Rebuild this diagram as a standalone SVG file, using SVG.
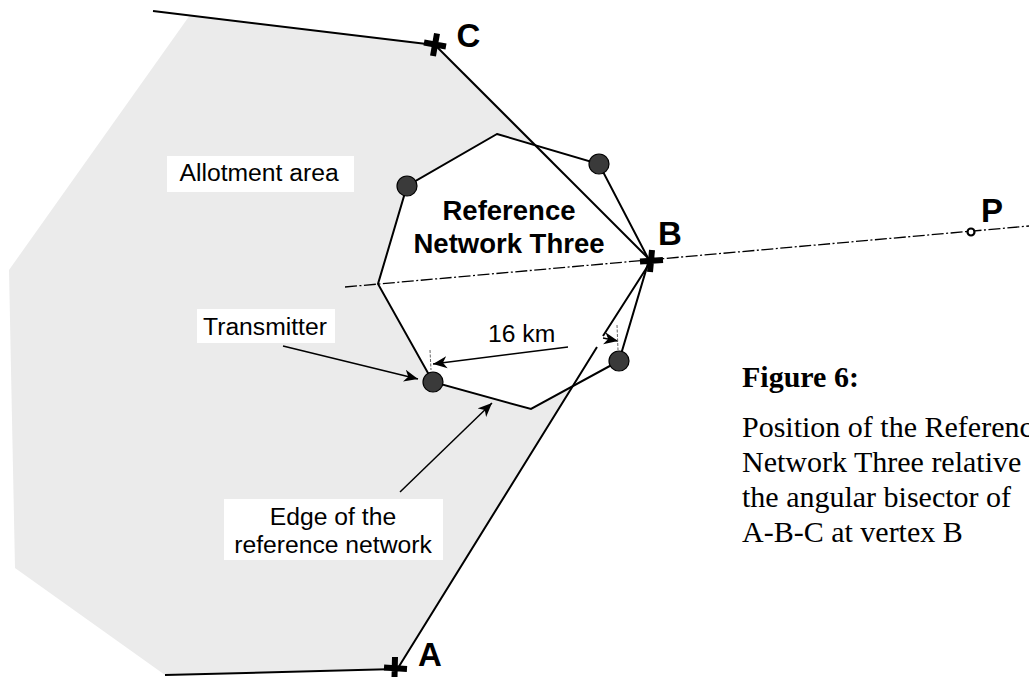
<svg xmlns="http://www.w3.org/2000/svg" width="1029" height="677" viewBox="0 0 1029 677">
<style>
.l{fill:none;stroke:#000;stroke-width:2}
.t{stroke:#000;stroke-width:1.5;fill:none}
.x{stroke:#000;stroke-width:6;fill:none}
.c{fill:#3a3a3a;stroke:#000;stroke-width:1.2}
.s{font-family:"Liberation Sans",Arial,sans-serif;font-size:24.700px;fill:#000}
.b{font-family:"Liberation Sans",Arial,sans-serif;font-weight:bold;fill:#000}
.f{font-family:"Liberation Serif","Times New Roman",serif;font-size:30px;fill:#000}
.w{fill:#fff}
</style>
<defs>
<marker id="a" markerUnits="userSpaceOnUse" markerWidth="15" markerHeight="13" refX="14" refY="6.500" orient="auto"><path d="M0,0.500L14,6.500L0,12.500L4,6.500Z" fill="#000"/></marker>
</defs>
<path id="area" d="M190,15L435,45L651,261L397,668L165,675L15,568L9,270Z" fill="#ebebeb"/>
<g id="connectors">
<path class="l" d="M153,11L435,45"/>
<path class="l" d="M165,675L396,669"/>
<path id="net" d="M497,134L599,164L649,260L619,361L531,409L433,382L378,284L407,186Z" fill="#fff" stroke="#000" stroke-width="2"/>
<path class="l" d="M435,45L651,261"/>
<path class="l" d="M398,668L597,347M603,336L651,261"/>
<path d="M345,287L1029,226" fill="none" stroke="#000" stroke-width="1.300" stroke-dasharray="12 2.500 2 2.500"/>
<path class="t" d="M283,346L418,379" marker-end="url(#a)"/>
<path class="t" d="M400,492L492,403" marker-end="url(#a)"/>
<path class="t" d="M568,347L433,364" marker-end="url(#a)"/>
<path class="t" d="M603,338L618,341" marker-end="url(#a)"/>
<path d="M430,350L431,370M617,325L618,350" fill="none" stroke="#666" stroke-width="1" stroke-dasharray="3 1.500"/>
</g>
<g id="tx1"><circle class="c" cx="407" cy="186" r="10"/></g>
<g id="tx2"><circle class="c" cx="599" cy="164" r="10"/></g>
<g id="tx3"><circle class="c" cx="619" cy="361" r="10"/></g>
<g id="tx4"><circle class="c" cx="433" cy="382" r="10"/></g>
<g id="C"><path class="x" d="M424,42.500L446,46.500M437,33.500L433,56"/><text class="b" x="456.500" y="46.500" font-size="33">C</text></g>
<g id="B"><path class="x" d="M640,261.500L663,260M652,250L650,272"/><text class="b" x="658" y="245" font-size="33">B</text></g>
<g id="A"><path class="x" d="M384,667.500L407,669M395,657L394.500,677"/><text class="b" x="418" y="666" font-size="33">A</text></g>
<g id="P"><circle cx="971" cy="232" r="3.500" fill="#fff" stroke="#000" stroke-width="2.200"/><text class="b" x="981" y="222" font-size="33">P</text></g>
<g id="allotment"><rect class="w" x="167" y="156" width="187" height="36"/><text class="s" x="179.500" y="181">Allotment area</text></g>
<g id="network"><text class="b" x="509" y="220" font-size="27.500" text-anchor="middle">Reference</text><text class="b" x="509" y="252.500" font-size="27.500" text-anchor="middle">Network Three</text></g>
<g id="transmitter"><rect class="w" x="197" y="309" width="138" height="34"/><text class="s" x="203" y="335">Transmitter</text></g>
<g id="km"><text class="s" x="488" y="342">16 km</text></g>
<g id="edge"><rect class="w" x="224" y="499" width="219" height="61"/><text class="s" x="333" y="525" text-anchor="middle">Edge of the</text><text class="s" x="333" y="553" text-anchor="middle">reference network</text></g>
<g id="caption"><text class="f" x="742" y="387" font-weight="bold">Figure 6:</text><text class="f" x="742" y="437">Position of the Referenc</text><text class="f" x="742" y="472">Network Three relative</text><text class="f" x="742" y="507">the angular bisector of</text><text class="f" x="742" y="542">A-B-C at vertex B</text></g>
</svg>
